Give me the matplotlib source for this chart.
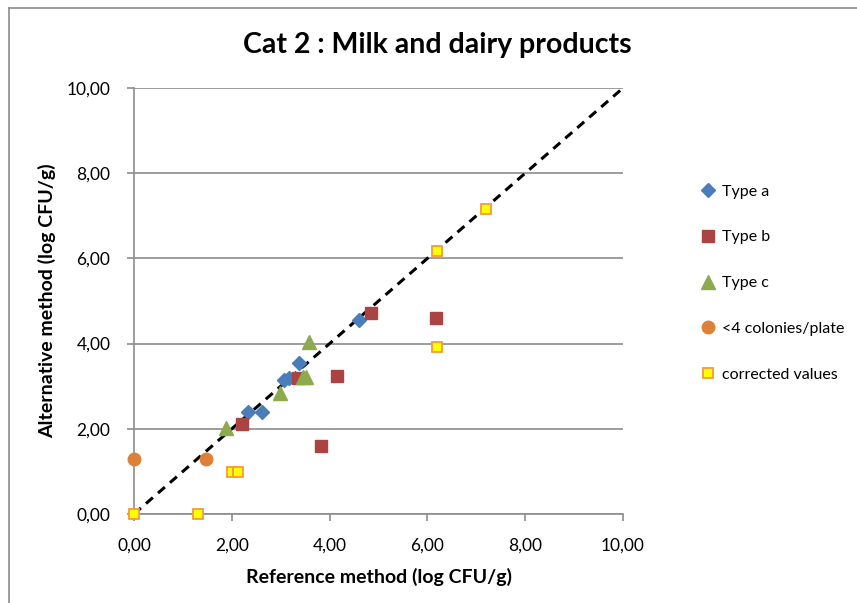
import matplotlib
matplotlib.use("Agg")
import matplotlib.pyplot as plt
from matplotlib.lines import Line2D
from matplotlib.ticker import FuncFormatter

plt.rcParams['font.family'] = ['Lato', 'DejaVu Sans']

# Data
type_a_x = [2.34, 2.61, 3.07, 3.16, 3.38, 4.60]
type_a_y = [2.40, 2.39, 3.15, 3.20, 3.54, 4.55]
type_b_x = [2.21, 3.35, 4.16, 3.83, 4.84, 6.17]
type_b_y = [2.11, 3.20, 3.25, 1.60, 4.73, 4.59]
type_c_x = [1.88, 2.99, 3.46, 3.52, 3.58]
type_c_y = [2.03, 2.83, 3.21, 3.21, 4.04]
few_x = [0.00, 1.48]
few_y = [1.29, 1.29]
corr_x = [0.00, 1.30, 2.01, 2.12, 6.19, 7.20, 6.19]
corr_y = [0.00, 0.00, 0.99, 0.99, 6.18, 7.17, 3.91]
diag = [0, 10]

ticks = [0, 2, 4, 6, 8, 10]

fig = plt.figure(figsize=(8.57, 6.03), dpi=100)
ax = fig.add_axes([134/857, 1-514/603, (623-134)/857, (514-88)/603])

# outer chart border (top and left)
fig.add_artist(Line2D([9/857, 9/857], [0, 1-8/603], transform=fig.transFigure, color='#8c8c8c', lw=1.2))
fig.add_artist(Line2D([9/857, 1], [1-8/603, 1-8/603], transform=fig.transFigure, color='#8c8c8c', lw=1.2))

ax.set_xlim(0, 10)
ax.set_ylim(0, 10)
ax.set_xticks(ticks)
ax.set_yticks(ticks)
fmt = FuncFormatter(lambda v, p: f"{v:.2f}".replace('.', ','))
ax.xaxis.set_major_formatter(fmt)
ax.yaxis.set_major_formatter(fmt)
ax.grid(axis='y', color='#8c8c8c', lw=1.2)
ax.set_axisbelow(True)
for s in ['top', 'right']:
    ax.spines[s].set_visible(False)
for s in ['left', 'bottom']:
    ax.spines[s].set_color('#8c8c8c')
    ax.spines[s].set_linewidth(1.2)
ax.tick_params(axis='both', colors='#8c8c8c', labelcolor='black', labelsize=12.5,
               length=5, width=1.2, direction='out')
ax.tick_params(axis='x', pad=12)
ax.tick_params(axis='y', pad=12)

ax.plot(diag, diag, color='black', lw=2.2, ls=(0, (3, 2.2)), zorder=2)

ax.plot(type_a_x, type_a_y, ls='none', marker='D', ms=7.5, color='#4A7EBB', mec='#4A7EBB', label='Type a', zorder=3, clip_on=False)
ax.plot(type_b_x, type_b_y, ls='none', marker='s', ms=8.5, color='#A94442', mec='#A94442', label='Type b', zorder=3, clip_on=False)
ax.plot(type_c_x, type_c_y, ls='none', marker='^', ms=10, color='#8DAA4F', mec='#8DAA4F', label='Type c', zorder=3, clip_on=False)
ax.plot(few_x, few_y, ls='none', marker='o', ms=9, color='#DD8138', mec='#DD8138', label='<4 colonies/plate', zorder=3, clip_on=False)
ax.plot(corr_x, corr_y, ls='none', marker='s', ms=6.5, color='#FFFF00', mec='#F59A3A', mew=1.3, label='corrected values', zorder=4, clip_on=False)

fig.text(437/857, 1-45/603, 'Cat 2 : Milk and dairy products', fontsize=20.5, fontweight='bold',
         ha='center', va='center')
ax.set_xlabel('Reference method (log CFU/g)', fontsize=14, fontweight='bold')
ax.set_ylabel('Alternative method (log CFU/g)', fontsize=14, fontweight='bold')
ax.xaxis.set_label_coords(0.5, (514-577)/426)
ax.yaxis.set_label_coords((47-134)/489, 0.5)
ax.xaxis.label.set_va('center')
ax.yaxis.label.set_va('center')

leg = ax.legend(loc='upper left', bbox_to_anchor=(692/857, 1-178/603), bbox_transform=fig.transFigure,
                frameon=False, fontsize=11.5, labelspacing=1.98, handletextpad=0.3, handlelength=1.2,
                borderaxespad=0)

fig.savefig('out.png', dpi=100)
